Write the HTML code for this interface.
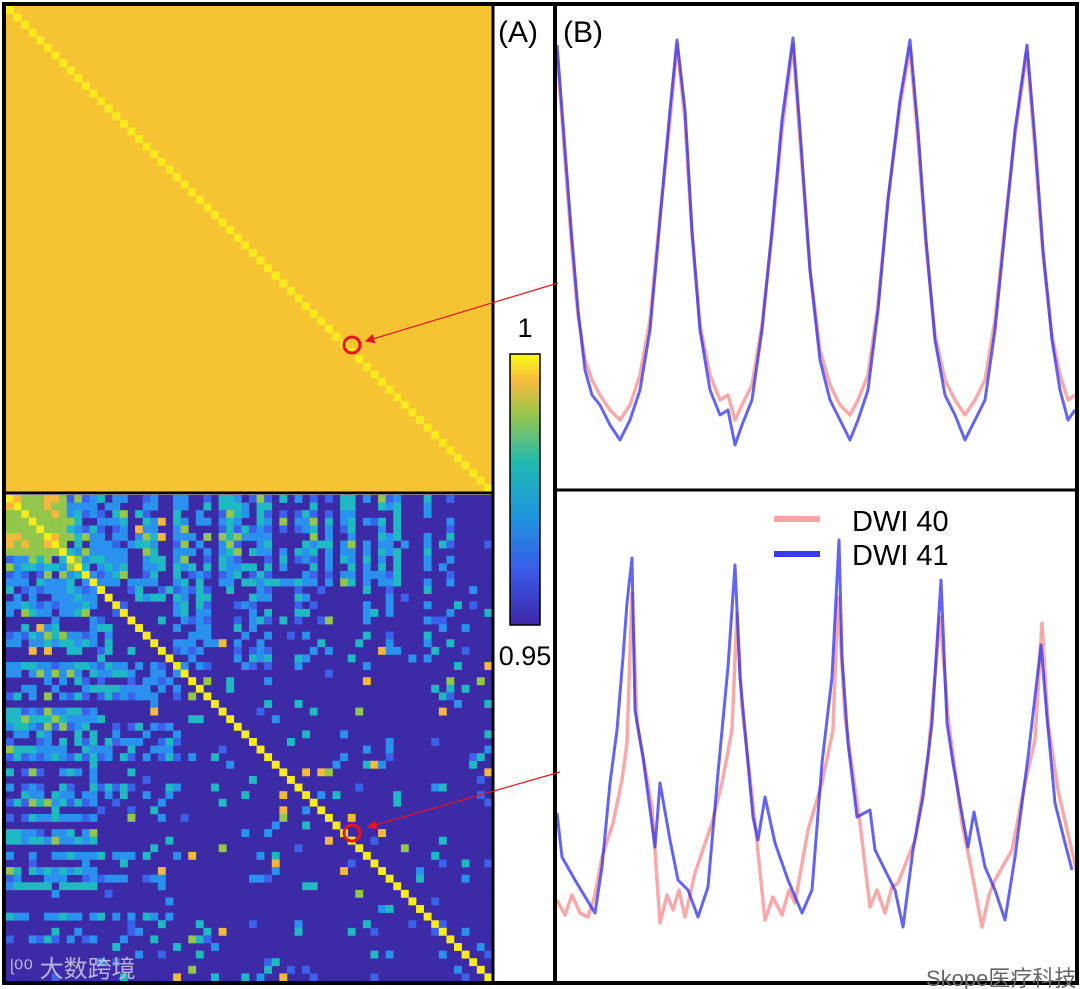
<!DOCTYPE html>
<html><head><meta charset="utf-8">
<style>
html,body{margin:0;padding:0;background:#fff;}
body{width:1080px;height:989px;overflow:hidden;font-family:"Liberation Sans","Noto Sans CJK SC",sans-serif;}
svg{display:block}
</style></head>
<body>
<svg id="fig" width="1080" height="989" viewBox="0 0 1080 989" xmlns="http://www.w3.org/2000/svg">
<defs>
<linearGradient id="parula" x1="0" y1="1" x2="0" y2="0">
<stop offset="0" stop-color="#3e26a8"/>
<stop offset="0.2" stop-color="#3a5ae8"/>
<stop offset="0.4" stop-color="#1e96de"/>
<stop offset="0.6" stop-color="#1fbab0"/>
<stop offset="0.78" stop-color="#9ac64a"/>
<stop offset="0.9" stop-color="#f7ba3e"/>
<stop offset="1" stop-color="#f9fa14"/>
</linearGradient>
<marker id="ah" markerWidth="8" markerHeight="8" refX="7" refY="4" orient="auto"><path d="M0,0 L8,4 L0,8 z" fill="#e8141c"/></marker>
</defs>
<g id="heatTop"></g>
<g id="heatBot"></g>
<g id="lines"></g>
<rect x="4" y="4" width="1073" height="979" fill="none" stroke="#000" stroke-width="4"/>
<line x1="4" y1="493" x2="493" y2="493" stroke="#000" stroke-width="3"/>
<line x1="493" y1="4" x2="493" y2="983" stroke="#000" stroke-width="3"/>
<line x1="555" y1="4" x2="555" y2="983" stroke="#000" stroke-width="4"/>
<line x1="555" y1="490" x2="1077" y2="490" stroke="#000" stroke-width="3"/>
<text x="498" y="42" font-size="30" fill="#000">(A)</text>
<text x="563" y="42" font-size="30" fill="#000">(B)</text>
<rect x="510" y="354" width="30" height="271" fill="url(#parula)" stroke="#000" stroke-width="1.5"/>
<text x="525" y="337" font-size="27" text-anchor="middle">1</text>
<text x="525" y="665" font-size="27" text-anchor="middle">0.95</text>
<circle cx="352" cy="345" r="8" fill="none" stroke="#e8141c" stroke-width="3"/>
<circle cx="352" cy="833" r="8" fill="none" stroke="#e8141c" stroke-width="3"/>
<line x1="558" y1="283" x2="366" y2="341" stroke="#e8141c" stroke-width="1.2" marker-end="url(#ah)"/>
<line x1="560" y1="772" x2="368" y2="827" stroke="#e8141c" stroke-width="1.2" marker-end="url(#ah)"/>
<g>
<line x1="774" y1="519" x2="820" y2="519" stroke="#f7a6a6" stroke-width="6"/>
<text x="852" y="531" font-size="29">DWI 40</text>
<line x1="774" y1="554" x2="820" y2="554" stroke="#3a3af0" stroke-width="6"/>
<text x="852" y="565" font-size="29">DWI 41</text>
</g>
<text x="10" y="977" font-size="24" fill="#c9c2ec" opacity="0.9">ᶩ⁰⁰ 大数跨境</text>
<text x="926" y="986" font-size="22" fill="#666">Skope医疗科技</text>
</svg>
<script>
const topBlueT=[0,8,15,21,28,35,43,53,63,73,83,93,103,113,120,128,135,143,153,163,171,178,185,195,205,215,225,236,243,253,263,273,283,293,301,311,321,331,343,353,361,369,378,388,398,408,418,428,438,448,458,470,478,486,495,503,511,518];
const topBlueV=[405,300,210,140,80,55,45,25,10,30,60,120,230,340,410,340,220,120,60,35,40,5,25,50,120,220,330,412,320,180,90,50,30,10,30,60,140,250,350,410,320,210,110,55,35,10,30,50,120,220,320,405,310,200,110,60,30,40];
const topRedT=[0,8,15,21,28,35,43,53,63,73,83,93,103,113,120,128,135,143,153,163,171,178,185,195,205,215,225,236,243,253,263,273,283,293,301,311,321,331,343,353,361,369,378,388,398,408,418,428,438,448,458,470,478,486,495,503,511,518];
const topRedV=[400,290,200,135,90,70,55,40,30,45,75,130,235,330,405,330,215,125,75,50,55,30,45,65,125,215,320,405,310,180,100,65,45,35,50,75,145,250,345,402,310,205,115,70,50,35,50,70,130,225,315,398,300,195,115,75,50,55];
const botBlueT=[0,5,18,30,38,45,53,60,66,70,75,78,86,98,103,113,121,131,141,151,161,171,178,183,196,201,208,218,231,245,255,265,275,282,285,291,300,313,318,328,338,346,356,366,375,384,390,396,403,411,417,428,438,448,458,471,484,490,498,508,515];
const botBlueV=[112,68,45,25,12,58,142,195,268,322,367,215,168,78,142,85,45,35,8,38,152,258,360,248,108,85,128,82,45,12,35,162,248,385,268,182,108,115,75,55,35,-2,75,128,202,345,202,162,122,78,113,58,35,5,68,168,280,208,122,82,55];
const botRedT=[0,8,15,23,31,38,45,56,65,70,75,80,95,103,110,116,122,128,138,155,165,175,180,185,198,208,216,225,232,238,251,265,276,281,288,303,313,320,328,335,341,358,371,383,391,405,415,425,432,438,455,468,478,485,491,501,520];
const botRedV=[25,10,30,12,8,30,68,102,145,182,332,202,118,2,30,15,35,8,52,102,142,195,312,218,102,5,28,10,35,22,95,142,195,328,208,102,18,35,12,38,42,85,168,308,208,102,52,-2,30,45,75,142,185,302,202,135,52];

const ns="http://www.w3.org/2000/svg";
const linesG=document.getElementById('lines');
function xTop(t){return 557+t;} function yTop(v){return 450-v;}
function xBot(t){return 557+t;} function yBot(v){return 925-v;}
function drawLine(T,V,xf,yf,color,w,op,name){
  const p=document.createElementNS(ns,'polyline');
  p.setAttribute('points',T.map((t,i)=>xf(t).toFixed(1)+','+yf(V[i]).toFixed(1)).join(' '));
  p.setAttribute('fill','none');p.setAttribute('stroke',color);p.setAttribute('stroke-width',w);
  p.setAttribute('stroke-opacity',op);p.setAttribute('stroke-linejoin','round');
  
  
  linesG.appendChild(p);
}
drawLine(topRedT,topRedV,xTop,yTop,'#f7a0a0',3.5,0.9,'series-dwi40-top');
drawLine(topBlueT,topBlueV,xTop,yTop,'#3030ee',3,0.75,'series-dwi41-top');
drawLine(botRedT,botRedV,xBot,yBot,'#f7a0a0',3.5,0.9,'series-dwi40-bottom');
drawLine(botBlueT,botBlueV,xBot,yBot,'#3030ee',3,0.75,'series-dwi41-bottom');

const N=64;
const levels=['#3d2aa6','#3a62ea','#2a92ee','#1fb9c3','#92c74c','#f4b93c','#f8ec1c'];
const lightIdx=[0,1,2,3,4,5,6,7,8,10,11,12,14,15,18,19,22,23,26,28,29,30,33,34,36,40,42,44,45,49,51];
const stripeCols=[11,12,13,22,23,24,25,26,30,31,32,33,34,38,39,40,47,50,55,58];
const x0=6,y0top=6,y0bot=495,cell=486/N;
const hT=document.getElementById('heatTop'), hB=document.getElementById('heatBot');
function rect(g,x,y,w,h,c,name){
  const r=document.createElementNS(ns,'rect');
  r.setAttribute('x',x.toFixed(2));r.setAttribute('y',y.toFixed(2));
  r.setAttribute('width',(w+0.3).toFixed(2));r.setAttribute('height',(h+0.3).toFixed(2));
  r.setAttribute('fill',c);
  
  
  g.appendChild(r);
}
rect(hT,x0,y0top,486,486,'#f6c332','heatmap-top-background');
rect(hB,x0,y0bot,486,486,levels[0],'heatmap-bottom-background');
for(let i=0;i<N;i++){ rect(hT,x0+i*cell,y0top+i*cell,cell,cell,'#f9ea1e','heatmap-top-diagonal'); }
function hsh(a,b){const i=Math.min(a,b),j=Math.max(a,b);let h=(i*73856093)^(j*19349663)^(i*j*83492791);h=Math.abs(h)%1000;return h;}
const lightMap=[1,2,2,3,3,2,1,4];
for(let i=0;i<N;i++)for(let j=0;j<N;j++){
  let lv=0;const h=hsh(i,j);
  if(i===j) lv=6;
  else if(i<8&&j<8) lv=(h%3===0)?5:4;
  else if((lightIdx.includes(i)&&j<12)||(lightIdx.includes(j)&&i<12)) lv=(h<120)?0:lightMap[h%8];
  else if((i<23&&stripeCols.includes(j))||(j<23&&stripeCols.includes(i))) lv=(h<550)?[1,2,2,3,1,2][h%6]:0;
  else if(h<90) lv=[1,1,2,2,3,3,4,5][h%8];
  if(lv>0) rect(hB,x0+j*cell,y0bot+i*cell,cell,cell,levels[lv],'heatmap-cell');
}
</script>
</body></html>
